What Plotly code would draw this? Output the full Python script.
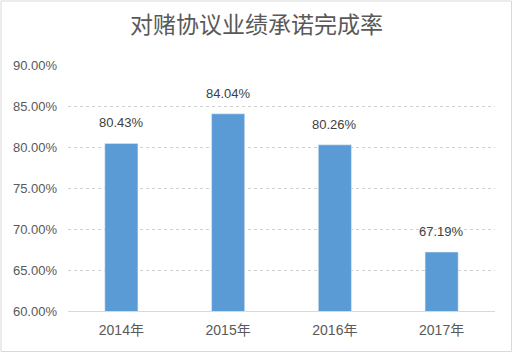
import plotly.graph_objects as go

categories = ["2014年", "2015年", "2016年", "2017年"]
values = [0.8043, 0.8404, 0.8026, 0.6719]
title_text = "对赌协议业绩承诺完成率"
tick_vals = [0.60, 0.65, 0.70, 0.75, 0.80, 0.85, 0.90]

W, H = 513, 353
ml, mr, mt, mb = 68, 18, 65, 42
pw, ph = W - ml - mr, H - mt - mb

fig = go.Figure(go.Bar(
    x=categories, y=values,
    marker_color="#5B9BD5",
    width=0.31,
    cliponaxis=False,
))

for c, v in zip(categories, values):
    fig.add_annotation(x=c, y=v, text=f"{v*100:.2f}%", showarrow=False,
                       yanchor="bottom", yshift=11,
                       font=dict(family="Liberation Sans, sans-serif", size=13, color="#404040"))

fig.update_layout(
    width=W, height=H,
    margin=dict(l=ml, r=mr, t=mt, b=mb),
    paper_bgcolor="white", plot_bgcolor="white",
    showlegend=False,
    title=dict(text=title_text, x=0.5, xref="container", xanchor="center", y=1 - 25 / H, yanchor="middle",
               font=dict(family="Noto Sans CJK SC", size=23, color="#595959")),
)
fig.update_xaxes(
    showgrid=False, showline=True, linecolor="#D9D9D9", linewidth=1,
    ticks="", ticklabelstandoff=6,
    tickfont=dict(family="Liberation Sans, Noto Sans CJK SC", size=14, color="#595959"),
)
fig.update_yaxes(
    range=[0.6, 0.9], tickvals=tick_vals, tickformat=".2%",
    showgrid=True, gridcolor="#D0D0D0", griddash="dot", gridwidth=1,
    zeroline=False, showline=False, ticks="", ticklen=0, ticklabelstandoff=10,
    tickfont=dict(family="Liberation Sans, sans-serif", size=13, color="#595959"),
)
fig.add_shape(type="rect", xref="paper", yref="paper",
              x0=-(ml - 1) / pw, x1=1 + (mr - 1.5) / pw,
              y0=-(mb - 1.5) / ph, y1=1 + (mt - 1) / ph,
              line=dict(color="#D9D9D9", width=1), layer="below")
fig.write_html("out.html")
